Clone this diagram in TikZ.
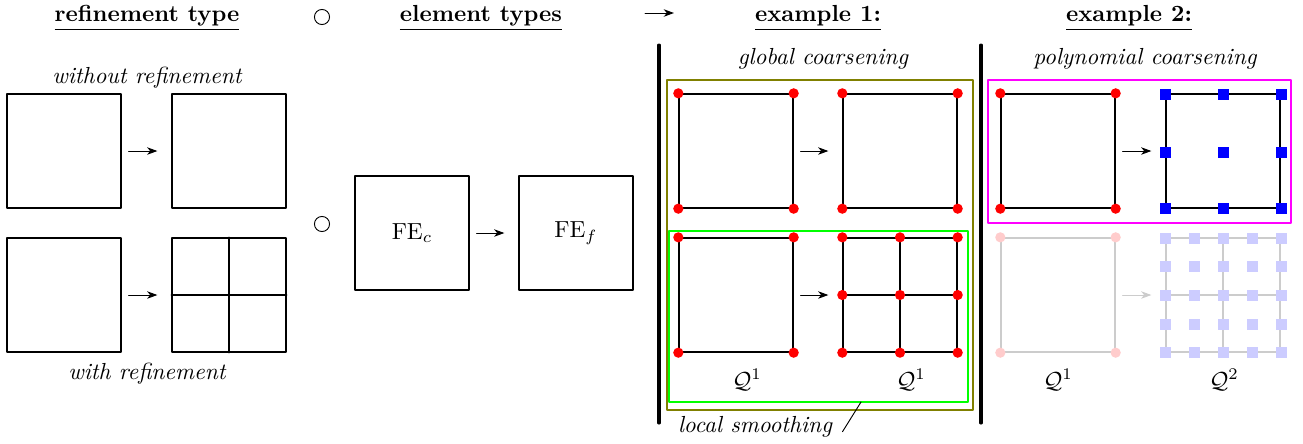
\documentclass[tikz,border=0pt]{standalone}
\usepackage{amsmath,amssymb}
\usetikzlibrary{arrows.meta,positioning}
\definecolor{magentaFrame}{RGB}{255,0,255}
\definecolor{oliveFrame}{RGB}{128,128,0}
\definecolor{greenFrame}{RGB}{0,255,0}
\tikzset{
  elem/.style={draw,semithick,minimum size=49pt,inner sep=0pt},
  head/.style={font=\bfseries},
  note/.style={font=\itshape},
  faded/.style={draw=black!20},
}
\begin{document}
\begin{tikzpicture}[line cap=round,line join=round,>={Stealth[length=4.4pt,width=3.2pt,inset=1.3pt]},x=0.43pt,y=-0.43pt]
	\useasboundingbox (0,0) rectangle (1303,443);
	% headers
	\node[head] (hRef) at (147,18) {\underline{refinement type}};
	\node[draw,circle,minimum size=6.5pt,inner sep=0pt] (hCirc) at (322,17) {};
	\node[head] (hElem) at (481,18) {\underline{element types}};
	\coordinate (hArrA) at (645,13);
	\coordinate (hArrB) at (674,13);
	\draw[->] (hArrA) -- (hArrB);
	\node[head] (hExA) at (818,18) {\underline{example 1:}};
	\node[head] (hExB) at (1129,18) {\underline{example 2:}};
	\draw[line width=1.3pt] (659,45) -- (659,423);
	\draw[line width=1.3pt] (981,45) -- (981,423);
	% refinement type
	\node[note] (tWo) at (147,78) {without refinement};
	\node[elem] (a1) at (64,151) {};
	\node[elem] (a2) at (229,151) {};
	\node[elem] (b1) at (64,295) {};
	\node[elem] (b2) at (229,295) {};
	\draw[semithick] (b2.north) -- (b2.south);
	\draw[semithick] (b2.west) -- (b2.east);
	\node[note] (tWi) at (147,374) {with refinement};
	\draw[->] ([xshift=3pt]a1.east) -- ([xshift=-6pt]a2.west);
	\draw[->] ([xshift=3pt]b1.east) -- ([xshift=-6pt]b2.west);
	% element types
	\node[draw,circle,minimum size=6.5pt,inner sep=0pt] (eCirc) at (322,224) {};
	\node[elem] (fc) at (412,233) {FE$_c$};
	\node[elem] (ff) at (576,233) {FE$_f$};
	\draw[->] ([xshift=3pt]fc.east) -- ([xshift=-6pt]ff.west);
	% example 1
	\node[note] (tGlob) at (823,59) {global coarsening};
	\draw[semithick,draw=oliveFrame] (667,80) rectangle (973,410);
	\draw[semithick,draw=greenFrame] (669,231) rectangle (968,402);
	\node[elem] (c1) at (736,151) {};
	\node[elem] (c2) at (900,151) {};
	\node[elem] (d1) at (736,295) {};
	\node[elem] (d2) at (900,295) {};
	\draw[semithick] (d2.north) -- (d2.south);
	\draw[semithick] (d2.west) -- (d2.east);
	\draw[->] ([xshift=3pt]c1.east) -- ([xshift=-6pt]c2.west);
	\draw[->] ([xshift=3pt]d1.east) -- ([xshift=-6pt]d2.west);
	\foreach \n in {c1,c2,d1,d2}
		\foreach \a in {north west,north east,south west,south east}
			\fill[red] (\n.\a) circle (2.2pt);
	\foreach \a in {north,south,west,east,center}
		\fill[red] (d2.\a) circle (2.2pt);
	\node (qA) at (747,380) {$\mathcal{Q}^1$};
	\node (qB) at (911,380) {$\mathcal{Q}^1$};
	\node[note] (tLoc) at (755,427) {local smoothing};
	\coordinate (locEnd) at (861,402);
	\draw ([shift={(1pt,-2pt)}]tLoc.east) -- (locEnd);
	% example 2
	\node[note] (tPoly) at (1145,59) {polynomial coarsening};
	\draw[semithick,draw=magentaFrame] (988,80) rectangle (1291,223);
	\node[elem] (e1) at (1058,151) {};
	\node[elem] (e2) at (1223,151) {};
	\draw[->] ([xshift=3pt]e1.east) -- ([xshift=-6pt]e2.west);
	\foreach \a in {north west,north east,south west,south east}
		\fill[red] (e1.\a) circle (2.2pt);
	\foreach \x in {1165,1223,1281}
		\foreach \y in {94,152,208}
			\fill[blue] (\x,\y) ++(-5.5,-5.5) rectangle ++(11,11);
	\node[elem,faded] (g1) at (1058,295) {};
	\node[elem,faded] (g2) at (1223,295) {};
	\draw[semithick,black!20] (g2.north) -- (g2.south);
	\draw[semithick,black!20] (g2.west) -- (g2.east);
	\draw[->,black!20] ([xshift=3pt]g1.east) -- ([xshift=-6pt]g2.west);
	\foreach \a in {north west,north east,south west,south east}
		\fill[red!20] (g1.\a) circle (2.2pt);
	\foreach \x in {1165,1194,1223,1252,1281}
		\foreach \y in {238,266,295,324,352}
			\fill[blue!20] (\x,\y) ++(-5.5,-5.5) rectangle ++(11,11);
	\node (qC) at (1058,380) {$\mathcal{Q}^1$};
	\node (qD) at (1224,380) {$\mathcal{Q}^2$};
\end{tikzpicture}
\end{document}
